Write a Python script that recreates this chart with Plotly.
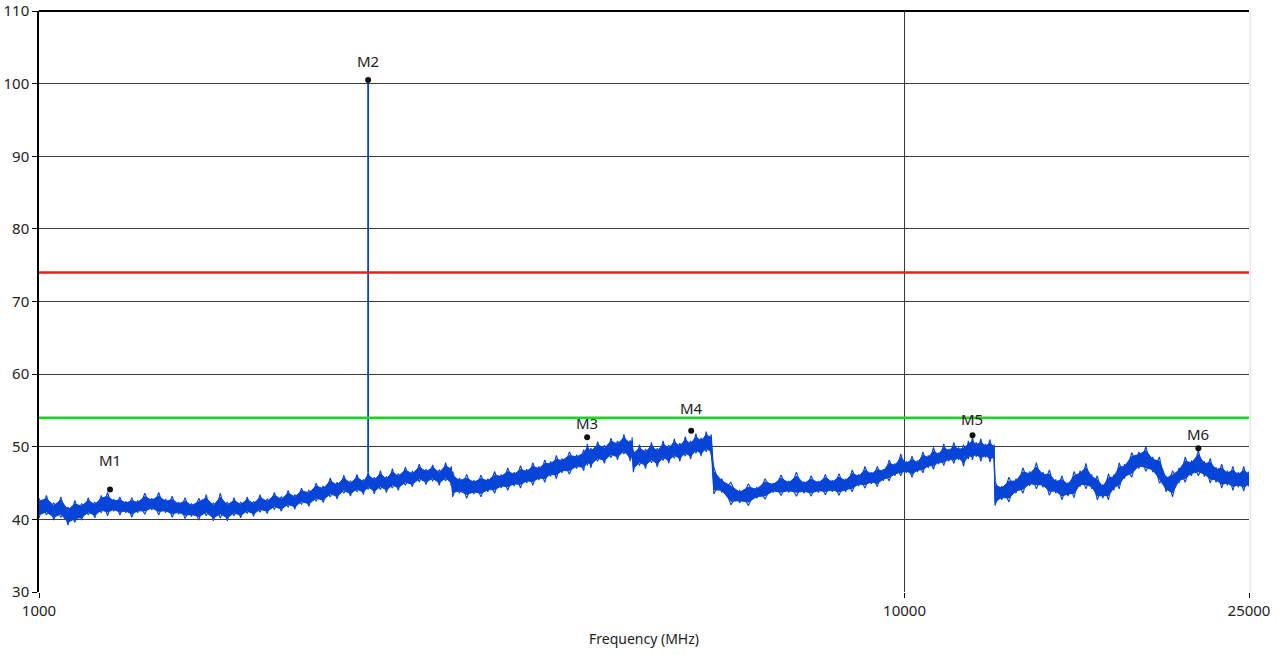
import numpy as np
import plotly.graph_objects as go

# ---------------- data ----------------
freq_mhz = [
    1000, 1020, 1040, 1060, 1080, 1100, 1120, 1140, 1160, 1180, 1200, 1220, 1240, 1260, 1280,
    1300, 1325, 1350, 1375, 1400, 1425, 1450, 1475, 1500, 1530, 1560, 1590, 1620, 1650, 1680,
    1710, 1740, 1770, 1800, 1835, 1870, 1905, 1940, 1975, 2010, 2050, 2090, 2130, 2170, 2210,
    2250, 2290, 2330, 2370, 2400, 2440, 2480, 2520, 2560, 2600, 2650, 2700, 2750, 2800, 2850,
    2900, 2950, 2995,
    3005, 3060, 3120, 3180, 3240, 3300, 3360, 3420, 3480, 3540, 3600, 3660, 3720, 3780, 3840,
    3900, 3960, 4020, 4100, 4180, 4260, 4300, 4340, 4420, 4500, 4580, 4660, 4740, 4820, 4845,
    4860, 4940, 5020, 5100, 5180, 5260, 5340, 5420, 5500, 5580, 5660, 5740, 5820, 5900, 5980,
    6020, 6150, 6300, 6450, 6600, 6750, 6900, 7050, 7200, 7350, 7500, 7650, 7800, 7950, 8100,
    8250, 8400, 8550, 8700, 8850, 9000, 9150, 9300, 9450, 9600, 9750, 9900, 10050, 10200, 10350,
    10500, 10650, 10800, 10950, 11100, 11250, 11400, 11550, 11700, 11850, 11980, 12100, 12250,
    12400, 12550, 12690,
    12720, 12950, 13200, 13450, 13700, 13950, 14200, 14450, 14700, 14950, 15200, 15450, 15700,
    15950, 16200, 16450, 16700, 16950, 17200, 17450, 17700, 17950, 18300, 18650, 19000, 19350,
    19700, 20050, 20400, 20750, 21100, 21450, 21850, 22200, 22550, 22900, 23250, 23600, 23950,
    24300, 24650, 25000,
]

level_hi_dbuv = [
    42.9, 43.3, 42.3, 43.1, 41.7, 42.6, 42.2, 43.0, 42.4, 43.3, 43.7, 42.8, 43.1, 42.5, 43.0,
    42.6, 43.6, 42.9, 43.7, 42.8, 43.2, 42.4, 43.0, 42.2, 42.9, 43.4, 42.3, 43.6, 42.4, 43.0,
    42.4, 43.1, 42.5, 43.4, 42.8, 43.7, 43.1, 44.0, 43.4, 44.3, 44.0, 45.0, 44.6, 45.7, 45.1,
    46.1, 45.3, 46.2, 45.5, 46.5, 45.8, 46.7, 45.9, 47.0, 46.3, 47.2, 46.6, 47.6, 46.9, 47.5,
    46.8, 47.8, 47.3,
    46.6, 45.7, 46.2, 45.4, 46.1, 45.6, 46.6, 46.2, 47.1, 46.5, 47.4, 46.9, 47.8, 47.3, 48.2,
    48.0, 48.8, 48.4, 49.3, 48.9, 49.6, 50.4, 49.8, 50.7, 50.2, 51.2, 50.8, 51.7, 50.9, 51.3,
    49.5, 50.3, 49.7, 50.6, 49.8, 50.8, 50.2, 51.1, 50.5, 51.4, 50.8, 51.8, 51.2, 52.1, 51.7,
    47.2, 45.6, 45.1, 44.0, 44.9, 44.4, 45.6, 45.0, 46.1, 45.3, 46.5, 45.2, 46.0, 45.3, 46.2,
    45.4, 46.3, 45.6, 46.8, 46.2, 47.3, 46.5, 47.3, 46.9, 48.2, 47.7, 49.0, 48.0, 48.7, 48.1,
    49.3, 48.8, 49.9, 49.2, 50.4, 49.7, 50.6, 49.9, 50.3, 50.8, 51.3, 50.6, 51.1,
    50.4, 51.0, 50.3,
    45.3, 44.6, 45.8, 45.6, 47.1, 46.6, 47.8, 46.5, 46.8, 45.5, 46.0, 45.1, 46.6,
    46.7, 47.7, 46.2, 46.0, 44.8, 46.3, 46.2, 47.8, 47.6, 49.2, 49.3, 50.0, 48.6,
    48.6, 46.0, 46.7, 47.1, 48.6, 48.1, 49.5, 48.0, 48.4, 47.2, 47.6, 46.7, 47.3,
    46.5, 47.3, 46.6,
]

level_lo_dbuv = [
    40.2, 40.6, 39.9, 40.3, 39.2, 39.6, 39.9, 40.6, 40.2, 40.9, 40.5, 41.1, 40.6, 40.9, 40.3,
    40.9, 40.7, 41.3, 40.6, 40.9, 40.3, 40.7, 40.1, 40.4, 39.9, 40.5, 39.8, 40.2, 39.8, 40.5,
    40.2, 40.8, 40.4, 41.0, 40.8, 41.4, 41.1, 41.7, 41.4, 42.1, 41.8, 42.5, 42.3, 43.1, 42.8,
    43.6, 43.2, 43.8, 43.4, 44.1, 43.5, 44.1, 43.7, 44.3, 44.0, 44.7, 44.5, 45.2, 44.8, 45.3,
    44.7, 45.3, 44.6,
    43.1, 43.6, 42.9, 43.5, 43.1, 43.8, 43.6, 44.3, 44.0, 44.6, 44.3, 45.0, 44.7, 45.4, 45.1,
    45.9, 45.6, 46.4, 46.2, 47.0, 46.7, 47.4, 47.1, 48.0, 47.7, 48.5, 48.2, 49.0, 48.0, 48.3,
    46.5, 47.4, 47.0, 47.8, 47.2, 48.1, 47.7, 48.4, 48.0, 48.7, 48.3, 49.1, 48.7, 49.3, 48.9,
    43.5, 43.7, 42.0, 42.3, 41.9, 42.9, 42.8, 43.7, 43.3, 43.7, 43.2, 43.6, 43.2, 43.7, 43.4,
    43.8, 43.3, 43.8, 43.8, 44.6, 44.3, 44.9, 44.5, 45.3, 45.3, 46.0, 46.0, 46.4, 45.8, 46.5,
    46.4, 47.1, 46.9, 47.6, 47.4, 48.0, 47.7, 48.2, 47.3, 48.3, 48.2, 48.6, 48.0,
    48.5, 47.9, 48.2,
    41.9, 42.7, 42.4, 43.6, 43.6, 44.6, 44.2, 44.4, 43.3, 43.6, 42.7, 43.2, 43.0,
    44.5, 44.2, 44.2, 42.7, 42.9, 42.7, 44.0, 44.2, 45.6, 45.8, 47.0, 46.6, 46.5,
    45.0, 43.8, 43.1, 45.0, 45.1, 46.0, 46.0, 45.9, 45.0, 45.1, 44.3, 44.7, 44.0,
    44.4, 43.9, 44.5,
]

marker_names = ["M1", "M2", "M3", "M4", "M5", "M6"]
marker_freq_mhz = [1208, 2400, 4298, 5669, 11980, 21850]
marker_level_dbuv = [44.1, 100.5, 51.3, 52.2, 51.6, 49.8]

limit_peak_dbuv = 74
limit_avg_dbuv = 54

x_tick_vals = [1000, 10000, 25000]
x_tick_text = ["1000", "10000", "25000"]
y_tick_vals = [30, 40, 50, 60, 70, 80, 90, 100, 110]

assert len(freq_mhz) == len(level_hi_dbuv) == len(level_lo_dbuv)

# ---------------- styling ----------------
TRACE_BLUE = "#0744d8"
FONT = "Noto Sans"
label_shift_px = [30, 19, 14, 23, 16, 14]

hi = np.array(level_hi_dbuv)
lo = np.array(level_lo_dbuv)
mid = (hi + lo) / 2
half = (hi - lo) * 0.34

fig = go.Figure()

# dense core of the noisy sweep
fig.add_trace(go.Scatter(
    x=freq_mhz + freq_mhz[::-1],
    y=list(mid + half) + list((mid - half)[::-1]),
    mode="lines", fill="toself", fillcolor=TRACE_BLUE,
    line=dict(color=TRACE_BLUE, width=1),
    hoverinfo="skip", showlegend=False,
))
# peak/valley excursions of the sweep (crossing zig-zags between envelope readings)
for parity in (0, 1):
    zz = [h if (i % 2 == parity) else l for i, (h, l) in enumerate(zip(level_hi_dbuv, level_lo_dbuv))]
    fig.add_trace(go.Scatter(
        x=freq_mhz, y=zz, mode="lines",
        line=dict(color=TRACE_BLUE, width=1.1),
        hoverinfo="skip", showlegend=False,
    ))

# M2 narrow-band spike rising out of the noise floor
spike_idx = freq_mhz.index(marker_freq_mhz[1])
fig.add_trace(go.Scatter(
    x=[marker_freq_mhz[1], marker_freq_mhz[1]],
    y=[level_hi_dbuv[spike_idx], marker_level_dbuv[1]],
    mode="lines", line=dict(color=TRACE_BLUE, width=1.8), showlegend=False,
))

# limit lines
x_range = [min(x_tick_vals), max(x_tick_vals)]
fig.add_trace(go.Scatter(
    x=x_range, y=[limit_peak_dbuv, limit_peak_dbuv], mode="lines",
    line=dict(color="#ee1c1c", width=2.5), showlegend=False,
))
fig.add_trace(go.Scatter(
    x=x_range, y=[limit_avg_dbuv, limit_avg_dbuv], mode="lines",
    line=dict(color="#1ed51e", width=2.5), showlegend=False,
))

# markers
fig.add_trace(go.Scatter(
    x=marker_freq_mhz, y=marker_level_dbuv, mode="markers",
    marker=dict(color="#111111", size=6), showlegend=False,
))
for name, f, v, s in zip(marker_names, marker_freq_mhz, marker_level_dbuv, label_shift_px):
    fig.add_annotation(
        x=np.log10(f), y=v, text=name, showarrow=False, yshift=s,
        font=dict(family=FONT, size=15, color="#222222"),
    )

# frame: top line, right light border, 10000 MHz vertical grid line
fig.add_shape(type="line", xref="paper", yref="paper", x0=0, x1=1, y0=1, y1=1,
              line=dict(color="#000000", width=2))
fig.add_shape(type="line", xref="paper", yref="paper", x0=1.001, x1=1.001, y0=0, y1=1,
              line=dict(color="#e0e0e0", width=1))
fig.add_shape(type="line", xref="x", yref="paper", x0=10000, x1=10000, y0=0, y1=1,
              line=dict(color="#333333", width=1), layer="below")

fig.update_layout(
    width=1279, height=655,
    margin=dict(l=39, r=30, t=11, b=63),
    paper_bgcolor="white", plot_bgcolor="white",
    font=dict(family=FONT, size=15, color="#222222"),
    showlegend=False,
)
fig.update_xaxes(
    type="log",
    range=[np.log10(x_range[0]), np.log10(x_range[1])],
    tickmode="array", tickvals=x_tick_vals, ticktext=x_tick_text,
    ticks="outside", ticklen=5, tickcolor="#000000",
    showgrid=False, zeroline=False, showline=False, automargin=False,
    ticklabeloverflow="allow",
    title=dict(text="Frequency (MHz)", font=dict(family=FONT, size=14), standoff=15),
    tickfont=dict(family=FONT, size=15),
)
fig.update_yaxes(
    range=[30, 110], tickmode="array", tickvals=y_tick_vals,
    ticks="outside", ticklen=5, tickcolor="#000000",
    showgrid=True, gridcolor="#3c3c3c", gridwidth=1,
    showline=True, linecolor="#000000", linewidth=1.5,
    zeroline=False, automargin=False,
    ticklabeloverflow="allow",
    tickfont=dict(family=FONT, size=15),
)

fig.write_html(
    "out.html",
    config={"displayModeBar": False},
    post_script="document.body.style.margin='0';document.body.style.overflow='hidden';",
)
